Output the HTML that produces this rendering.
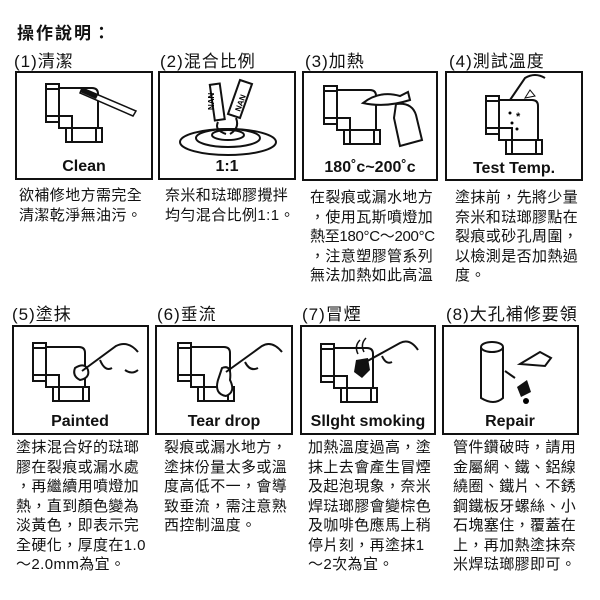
<!DOCTYPE html>
<html><head><meta charset="utf-8"><style>
body{margin:0;background:#fff;width:600px;height:600px;overflow:hidden;position:relative;font-family:"Liberation Sans","Noto Sans CJK TC",sans-serif;color:#111}
.t{position:absolute;white-space:nowrap}
.h{font-size:17px;letter-spacing:1px}
.d{font-size:15px;line-height:19.5px;letter-spacing:0.4px}
svg{position:absolute;left:0;top:0}
</style></head><body>
<svg width="600" height="600" viewBox="0 0 600 600">
<defs>
<g id="elbow" fill="#fff" stroke="#111" stroke-width="2">
<path d="M13 4 H46 Q52 4 52 10 V44 H13 Z"/>
<rect x="0" y="0" width="13" height="38"/>
<line x1="0" y1="5" x2="13" y2="5"/><line x1="0" y1="32" x2="13" y2="32"/>
<path d="M13 32 H26 V44" fill="none"/>
<rect x="20" y="44" width="36" height="14"/>
<line x1="26" y1="44" x2="26" y2="58"/><line x1="50" y1="44" x2="50" y2="58"/>
</g>
</defs>
<g fill="none" stroke="#111" stroke-width="2">
<rect x="16" y="72" width="136" height="107"/>
<rect x="159" y="72" width="136" height="107"/>
<rect x="303" y="72" width="134" height="108"/>
<rect x="446" y="72" width="136" height="108"/>
<rect x="13" y="326" width="135" height="108"/>
<rect x="156" y="326" width="136" height="108"/>
<rect x="301" y="326" width="134" height="108"/>
<rect x="443" y="326" width="135" height="108"/>
</g>
<!-- 1 -->
<use href="#elbow" x="46" y="84"/>
<path d="M82 88 L136 111 L133 116 L80 93 Z" fill="#fff" stroke="#111" stroke-width="1.5"/>
<path d="M82 88 L98 95 L96 99 L80 92Z" fill="#111"/>
<!-- 2 -->
<g stroke="#111" stroke-width="2" fill="#fff">
<ellipse cx="228" cy="142" rx="48" ry="13"/>
<ellipse cx="228" cy="138" rx="32" ry="9"/>
<ellipse cx="228" cy="135" rx="16" ry="5"/>
<path d="M212 84 L222 84 L222 120 L212 120Z" transform="rotate(-8 217 100)"/>
<path d="M240 80 L252 84 L240 118 L228 114Z"/>
<path d="M218 122 Q214 130 226 134 M236 118 Q240 128 230 134" fill="none"/>
</g>
<text x="214" y="110" font-size="8" transform="rotate(-90 214 110)" font-family="Liberation Sans" font-weight="bold">NAN</text>
<text x="240" y="112" font-size="8" transform="rotate(-70 240 112)" font-family="Liberation Sans" font-weight="bold">NAN</text>
<!-- 3 -->
<use href="#elbow" x="324" y="86"/>
<g stroke="#111" stroke-width="2" fill="#fff">
<path d="M363 103 Q380 90 400 96 L408 92 L410 100 Q385 108 363 103Z"/>
<path d="M396 104 Q412 102 416 115 L422 140 L400 146 L394 118 Z"/>
</g>
<!-- 4 -->
<use href="#elbow" x="486" y="96"/>
<path d="M510 100 L525 78 Q535 72 545 78" fill="none" stroke="#111" stroke-width="2"/>
<path d="M525 98 L530 90 L535 96Z" fill="#fff" stroke="#111"/>
<text x="516" y="120" font-size="11" font-weight="bold">*</text>
<circle cx="510" cy="113" r="1.5"/><circle cx="512" cy="123" r="1.5"/><circle cx="517" cy="129" r="1.5"/>
<!-- 5 -->
<use href="#elbow" x="33" y="343"/>
<path d="M75 368 Q85 362 88 370 Q90 378 80 380 Q72 376 75 368Z" fill="#fff" stroke="#111" stroke-width="2"/>
<path d="M82 371 L116 346 Q128 340 138 352 M100 360 Q105 372 112 368 M125 370 Q132 375 138 370" fill="none" stroke="#111" stroke-width="2"/>
<!-- 6 -->
<use href="#elbow" x="178" y="343"/>
<path d="M222 368 Q232 364 230 380 Q236 392 226 396 Q214 394 218 380Z" fill="#fff" stroke="#111" stroke-width="2"/>
<path d="M226 372 L262 346 Q272 340 282 352 M245 362 Q250 372 258 368" fill="none" stroke="#111" stroke-width="2"/>
<!-- 7 -->
<use href="#elbow" x="321" y="344"/>
<path d="M356 360 L368 358 L370 370 L362 378 L354 372Z" fill="#111"/>
<path d="M362 364 L400 343 Q410 338 418 350 M382 356 Q386 365 392 362" fill="none" stroke="#111" stroke-width="2"/>
<path d="M358 354 Q354 346 360 340 M364 352 Q360 344 366 338" fill="none" stroke="#111" stroke-width="1.5"/>
<!-- 8 -->
<g stroke="#111" stroke-width="2" fill="#fff">
<path d="M481 347 V398 Q494 406 503 398 V347"/>
<ellipse cx="492" cy="347" rx="11" ry="5"/>
<path d="M520 364 L540 352 L551 358 L545 366 Z"/>
</g>
<path d="M517 387 L527 380 L531 392 L521 397Z" fill="#111"/>
<circle cx="526" cy="401" r="3"/>
<path d="M505 371 L515 378" stroke="#111" stroke-width="2"/>
<g font-family="Liberation Sans" font-weight="bold" font-size="16" text-anchor="middle" fill="#111">
<text x="84" y="171">Clean</text>
<text x="227" y="171">1:1</text>
<text x="370" y="172">180˚c~200˚c</text>
<text x="514" y="173">Test Temp.</text>
<text x="80" y="426">Painted</text>
<text x="224" y="426">Tear drop</text>
<text x="368" y="426">Sllght smoking</text>
<text x="510" y="426">Repair</text>
</g>
</svg>
<div class="t" style="left:17px;top:19px;font-size:17px;font-weight:bold;letter-spacing:2px">操作說明：</div>
<div class="t h" style="left:14px;top:47px">(1)清潔</div>
<div class="t h" style="left:160px;top:47px">(2)混合比例</div>
<div class="t h" style="left:305px;top:47px">(3)加熱</div>
<div class="t h" style="left:449px;top:47px">(4)測試溫度</div>
<div class="t h" style="left:12px;top:300px">(5)塗抹</div>
<div class="t h" style="left:157px;top:300px">(6)垂流</div>
<div class="t h" style="left:302px;top:300px">(7)冒煙</div>
<div class="t h" style="left:446px;top:300px">(8)大孔補修要領</div>
<div class="t d" style="left:19px;top:186px">欲補修地方需完全<br>清潔乾淨無油污。</div>
<div class="t d" style="left:165px;top:186px">奈米和琺瑯膠攪拌<br>均勻混合比例1:1。</div>
<div class="t d" style="left:310px;top:188px">在裂痕或漏水地方<br>，使用瓦斯噴燈加<br><span style="letter-spacing:-0.3px">熱至180°C～200°C</span><br>，注意塑膠管系列<br>無法加熱如此高溫</div>
<div class="t d" style="left:455px;top:188px">塗抹前，先將少量<br>奈米和琺瑯膠點在<br>裂痕或砂孔周圍，<br>以檢測是否加熱過<br>度。</div>
<div class="t d" style="left:16px;top:438px">塗抹混合好的琺瑯<br>膠在裂痕或漏水處<br>，再繼續用噴燈加<br>熱，直到顏色變為<br>淡黃色，即表示完<br>全硬化，厚度在1.0<br>～2.0mm為宜。</div>
<div class="t d" style="left:164px;top:438px">裂痕或漏水地方，<br>塗抹份量太多或溫<br>度高低不一，會導<br>致垂流，需注意熟<br>西控制溫度。</div>
<div class="t d" style="left:308px;top:438px">加熱溫度過高，塗<br>抹上去會產生冒煙<br>及起泡現象，奈米<br>焊琺瑯膠會變棕色<br>及咖啡色應馬上稍<br>停片刻，再塗抹1<br>～2次為宜。</div>
<div class="t d" style="left:453px;top:438px">管件鑽破時，請用<br>金屬網、鐵、鋁線<br>繞圈、鐵片、不銹<br>鋼鐵板牙螺絲、小<br>石塊塞住，覆蓋在<br>上，再加熱塗抹奈<br>米焊琺瑯膠即可。</div>
</body></html>
